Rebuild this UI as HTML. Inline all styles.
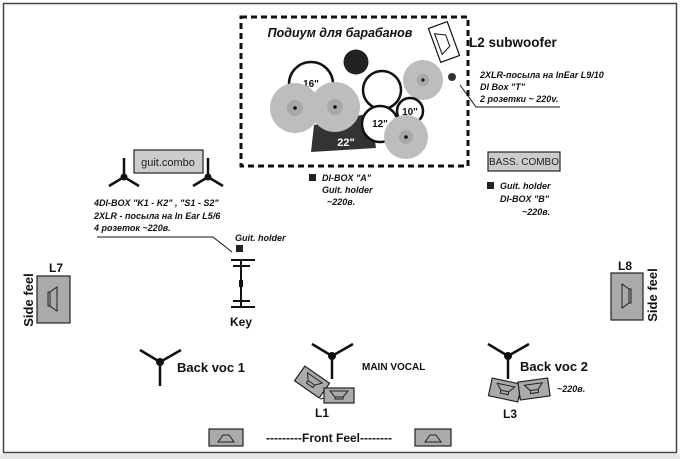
<!DOCTYPE html>
<html><head><meta charset="utf-8"><style>
html,body{margin:0;padding:0;background:#fff}
svg{display:block;font-family:"Liberation Sans",sans-serif}
.bi{font-weight:bold;font-style:italic;font-size:9px;fill:#111}
.b{font-weight:bold;fill:#111}
</style></head><body>
<svg width="680" height="459" viewBox="0 0 680 459" xmlns="http://www.w3.org/2000/svg">
<rect x="0" y="0" width="680" height="459" fill="#fff"/>
<rect x="3.5" y="3.5" width="673" height="449" fill="none" stroke="#444" stroke-width="1.5"/>
<rect x="0" y="454" width="680" height="5" fill="#e6e6e6"/>

<!-- drum riser -->
<rect x="241" y="17" width="227" height="149" fill="none" stroke="#111" stroke-width="3" stroke-dasharray="6,4"/>
<text x="340" y="37" text-anchor="middle" style="font-weight:bold;font-style:italic;font-size:12.5px" fill="#111">Подиум для барабанов</text>
<g transform="rotate(-20 444 42)">
<rect x="434" y="24" width="20" height="36" fill="#fff" stroke="#111" stroke-width="1.2"/>
<path d="M438 31 L448 36 L448 48 L438 53 Z" fill="none" stroke="#111"/>
</g>
<text x="469" y="47" class="b" font-size="13.5">L2 subwoofer</text>
<circle cx="356" cy="62" r="12.5" fill="#222"/>
<circle cx="311" cy="84" r="22" fill="#fff" stroke="#111" stroke-width="2.5"/>
<text x="311" y="87" text-anchor="middle" class="b" font-size="10">16"</text>
<circle cx="295" cy="108" r="25" fill="#bdbdbd"/><circle cx="295" cy="108" r="8" fill="#a8a8a8"/><circle cx="295" cy="108" r="1.8" fill="#111"/>
<circle cx="382" cy="90" r="19" fill="#fff" stroke="#111" stroke-width="2.5"/>
<circle cx="423" cy="80" r="20" fill="#bdbdbd"/><circle cx="423" cy="80" r="6" fill="#a8a8a8"/><circle cx="423" cy="80" r="1.6" fill="#111"/>
<polygon points="314,125 371,113 376,148 311,152" fill="#333"/>
<text x="346" y="146" text-anchor="middle" class="b" font-size="11" style="fill:#fff">22"</text>
<circle cx="335" cy="107" r="25" fill="#bdbdbd"/><circle cx="335" cy="107" r="8" fill="#a8a8a8"/><circle cx="335" cy="107" r="1.8" fill="#111"/>
<circle cx="410" cy="111" r="13" fill="#fff" stroke="#111" stroke-width="2.5"/>
<text x="410" y="115" text-anchor="middle" class="b" font-size="10">10"</text>
<circle cx="380" cy="124" r="18" fill="#fff" stroke="#111" stroke-width="2.5"/>
<text x="380" y="127" text-anchor="middle" class="b" font-size="10">12"</text>
<circle cx="406" cy="137" r="22" fill="#bdbdbd"/><circle cx="406" cy="137" r="7" fill="#a8a8a8"/><circle cx="406" cy="137" r="1.8" fill="#111"/>
<circle cx="452" cy="77" r="4" fill="#333"/>
<polyline points="460,85 476,107 560,107" fill="none" stroke="#111" stroke-width="1"/>
<text x="480" y="78" class="bi">2XLR-посыла на InEar L9/10</text>
<text x="480" y="90" class="bi">DI Box "T"</text>
<text x="480" y="102" class="bi">2 розетки ~ 220v.</text>

<rect x="309" y="174" width="7" height="7" fill="#222"/>
<text x="322" y="181" class="bi">DI-BOX "A"</text>
<text x="322" y="193" class="bi">Guit. holder</text>
<text x="327" y="205" class="bi">~220в.</text>

<rect x="488" y="152" width="72" height="19" fill="#ccc" stroke="#222" stroke-width="1.2"/>
<text x="524" y="165" text-anchor="middle" font-size="10" fill="#222">BASS. COMBO</text>
<rect x="487" y="182" width="7" height="7" fill="#222"/>
<text x="500" y="189" class="bi">Guit. holder</text>
<text x="500" y="202" class="bi">DI-BOX "B"</text>
<text x="522" y="215" class="bi">~220в.</text>

<!-- guitar -->
<rect x="134" y="150" width="69" height="23" fill="#ccc" stroke="#222" stroke-width="1.2"/>
<text x="168" y="166" text-anchor="middle" font-size="11" fill="#222">guit.combo</text>
<g stroke="#111" stroke-width="2.5" fill="none">
<line x1="124" y1="177" x2="124" y2="158"/><line x1="124" y1="177" x2="109" y2="186"/><line x1="124" y1="177" x2="139" y2="186"/>
<line x1="208" y1="177" x2="208" y2="158"/><line x1="208" y1="177" x2="193" y2="186"/><line x1="208" y1="177" x2="223" y2="186"/>
</g>
<circle cx="124" cy="177" r="3.5" fill="#111"/><circle cx="208" cy="177" r="3.5" fill="#111"/>
<text x="94" y="206" class="bi">4DI-BOX "K1 - K2" , "S1 - S2"</text>
<text x="94" y="219" class="bi">2XLR -  посыла на In Ear L5/6</text>
<text x="94" y="231" class="bi">4 розеток ~220в.</text>
<polyline points="97,237 213,237 232,252" fill="none" stroke="#111" stroke-width="1"/>
<rect x="236" y="245" width="7" height="7" fill="#222"/>
<text x="235" y="241" class="bi">Guit. holder</text>
<g stroke="#111" stroke-width="2">
<line x1="241" y1="259" x2="241" y2="307"/>
<line x1="231" y1="260" x2="255" y2="260"/><line x1="233" y1="266" x2="250" y2="266"/>
<line x1="233" y1="301" x2="250" y2="301"/><line x1="231" y1="307" x2="255" y2="307"/>
</g>
<rect x="239" y="280" width="4" height="7" fill="#111"/>
<text x="241" y="326" text-anchor="middle" class="b" font-size="12">Key</text>

<!-- side feels -->
<rect x="37" y="276" width="33" height="47" fill="#aaa" stroke="#222" stroke-width="1.2"/>
<path d="M50 292 L57 287 L57 311 L50 306 Z M50 292 L48 292 L48 306 L50 306" fill="none" stroke="#222"/>
<text x="56" y="272" text-anchor="middle" class="b" font-size="12">L7</text>
<text transform="translate(33,300) rotate(-90)" text-anchor="middle" class="b" font-size="13">Side feel</text>
<rect x="611" y="273" width="32" height="47" fill="#aaa" stroke="#222" stroke-width="1.2"/>
<path d="M629 289 L622 284 L622 308 L629 303 Z M629 289 L631 289 L631 303 L629 303" fill="none" stroke="#222"/>
<text x="625" y="270" text-anchor="middle" class="b" font-size="12">L8</text>
<text transform="translate(657,295) rotate(-90)" text-anchor="middle" class="b" font-size="13">Side feel</text>

<!-- vocal mics -->
<g stroke="#111" stroke-width="2.5" fill="none">
<line x1="160" y1="362" x2="160" y2="386"/><line x1="160" y1="362" x2="140" y2="350"/><line x1="160" y1="362" x2="181" y2="350"/>
<line x1="332" y1="356" x2="332" y2="379"/><line x1="332" y1="356" x2="312" y2="344"/><line x1="332" y1="356" x2="353" y2="344"/>
<line x1="508" y1="356" x2="508" y2="379"/><line x1="508" y1="356" x2="488" y2="344"/><line x1="508" y1="356" x2="529" y2="344"/>
</g>
<circle cx="160" cy="362" r="4" fill="#111"/><circle cx="332" cy="356" r="4" fill="#111"/><circle cx="508" cy="356" r="4" fill="#111"/>
<text x="177" y="372" class="b" font-size="13">Back voc 1</text>
<text x="362" y="370" class="b" font-size="10">MAIN VOCAL</text>
<text x="520" y="371" class="b" font-size="13">Back voc 2</text>
<text x="557" y="392" class="bi">~220в.</text>

<!-- L1 -->
<g transform="rotate(35 312 382)">
<rect x="297" y="373" width="30" height="18" fill="#aaa" stroke="#222" stroke-width="1.2"/>
<path d="M303 377 L321 377 L316 383 L308 383 Z M308 383 L308 386 L316 386 L316 383" fill="none" stroke="#222"/>
</g>
<line x1="320" y1="399" x2="325" y2="398" stroke="#222"/>
<rect x="324" y="388" width="30" height="15" fill="#aaa" stroke="#222" stroke-width="1.2"/>
<path d="M330 391 L348 391 L343 397 L335 397 Z M335 397 L335 399 L343 399 L343 397" fill="none" stroke="#222"/>
<text x="322" y="417" text-anchor="middle" class="b" font-size="12">L1</text>
<!-- L3 -->
<g transform="rotate(12 505 390)">
<rect x="490" y="381" width="30" height="18" fill="#aaa" stroke="#222" stroke-width="1.2"/>
<path d="M496 385 L514 385 L509 391 L501 391 Z M501 391 L501 394 L509 394 L509 391" fill="none" stroke="#222"/>
</g>
<line x1="518" y1="398" x2="524" y2="398" stroke="#222"/>
<g transform="rotate(-8 534 389)">
<rect x="519" y="380" width="30" height="18" fill="#aaa" stroke="#222" stroke-width="1.2"/>
<path d="M525 384 L543 384 L538 390 L530 390 Z M530 390 L530 393 L538 393 L538 390" fill="none" stroke="#222"/>
</g>
<text x="510" y="418" text-anchor="middle" class="b" font-size="12">L3</text>

<!-- front feel -->
<rect x="209" y="429" width="34" height="17" fill="#aaa" stroke="#222" stroke-width="1.2"/>
<path d="M218 442 L223 435 L229 435 L234 442 Z" fill="none" stroke="#222"/>
<rect x="415" y="429" width="36" height="17" fill="#aaa" stroke="#222" stroke-width="1.2"/>
<path d="M425 442 L430 435 L436 435 L441 442 Z" fill="none" stroke="#222"/>
<text x="329" y="442" text-anchor="middle" class="b" font-size="12">---------Front Feel--------</text>
</svg>
</body></html>
